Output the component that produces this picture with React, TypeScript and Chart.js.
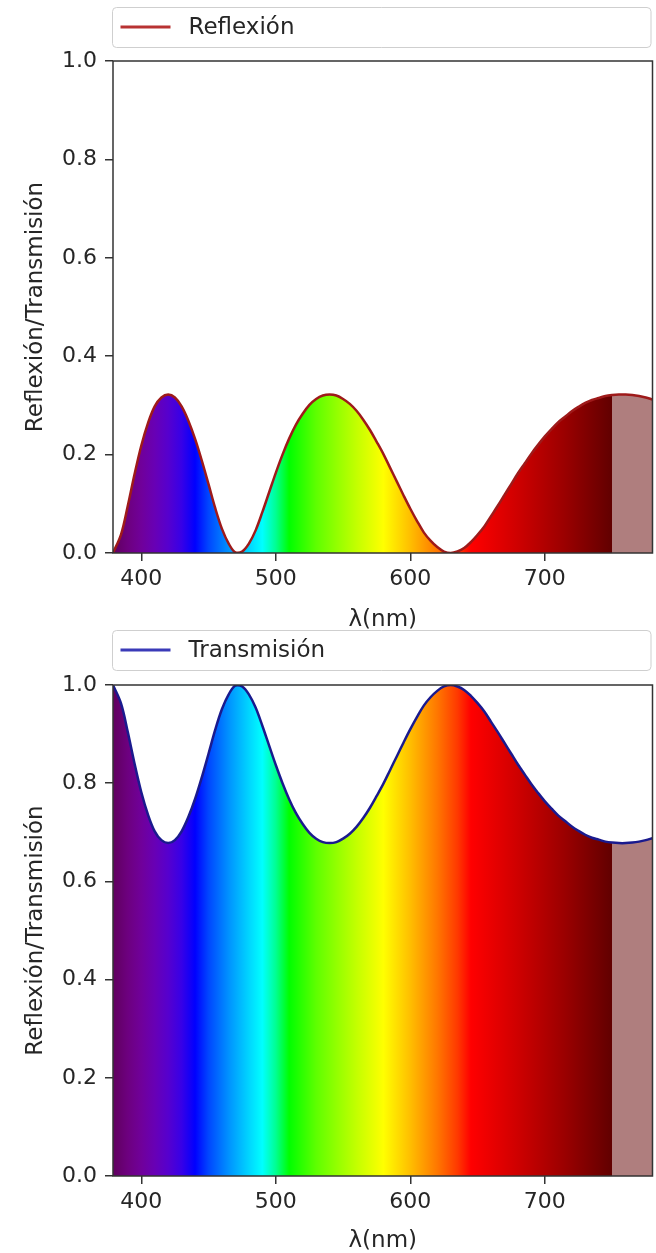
import React, { useEffect, useRef } from 'react';
import { Chart, registerables } from 'chart.js';

Chart.register(...registerables);

// ---------- data ----------
const wavelengths = [
  379, 385, 390, 395, 400, 405, 410, 415, 420, 425,
  430, 435, 440, 445, 450, 455, 460, 465, 470, 475,
  480, 485, 490, 495, 500, 505, 510, 515, 520, 525,
  530, 535, 540, 545, 550, 555, 560, 565, 570, 575,
  580, 585, 590, 595, 600, 605, 610, 615, 620, 625,
  630, 635, 640, 645, 650, 655, 660, 665, 670, 675,
  680, 685, 690, 695, 700, 705, 710, 715, 720, 725,
  730, 735, 740, 745, 750, 755, 760, 765, 770, 775,
  780,
];

const reflexion = [
  0.000, 0.038, 0.096, 0.160, 0.218, 0.264, 0.298, 0.316, 0.322, 0.316,
  0.298, 0.269, 0.232, 0.188, 0.140, 0.091, 0.049, 0.019, 0.001, 0.003,
  0.019, 0.046, 0.083, 0.123, 0.163, 0.200, 0.233, 0.261, 0.283, 0.301,
  0.313, 0.320, 0.322, 0.320, 0.313, 0.303, 0.289, 0.271, 0.250, 0.226,
  0.201, 0.173, 0.145, 0.117, 0.090, 0.065, 0.042, 0.025, 0.012, 0.003,
  0.000, 0.003, 0.010, 0.022, 0.037, 0.054, 0.075, 0.096, 0.118, 0.140,
  0.162, 0.182, 0.202, 0.220, 0.237, 0.252, 0.266, 0.277, 0.288, 0.297,
  0.305, 0.311, 0.315, 0.319, 0.321, 0.322, 0.322, 0.321, 0.319, 0.316,
  0.312,
];

const transmision = [
  1.000, 0.962, 0.904, 0.840, 0.782, 0.736, 0.702, 0.684, 0.678, 0.684,
  0.702, 0.731, 0.768, 0.812, 0.860, 0.909, 0.951, 0.981, 0.999, 0.997,
  0.981, 0.954, 0.917, 0.877, 0.837, 0.800, 0.767, 0.739, 0.717, 0.699,
  0.687, 0.680, 0.678, 0.680, 0.687, 0.697, 0.711, 0.729, 0.750, 0.774,
  0.799, 0.827, 0.855, 0.883, 0.910, 0.935, 0.958, 0.975, 0.988, 0.997,
  1.000, 0.997, 0.990, 0.978, 0.963, 0.946, 0.925, 0.904, 0.882, 0.860,
  0.838, 0.818, 0.798, 0.780, 0.763, 0.748, 0.734, 0.723, 0.712, 0.703,
  0.695, 0.689, 0.685, 0.681, 0.679, 0.678, 0.678, 0.679, 0.681, 0.684,
  0.688,
];

const xTicks = [400, 500, 600, 700];
const yTicks = [0, 0.2, 0.4, 0.6, 0.8, 1.0];
const xMin = 379;
const xMax = 780;
const visibleEnd = 750;

// spectrum colour stops (wavelength -> colour)
const spectrumNm = [380, 390, 400, 410, 420, 430, 440, 450, 465, 480, 490, 500, 510, 530, 545, 560, 580, 600, 620, 635, 645, 680, 715, 750];
const spectrumColors = [
  'rgb(97,0,97)', 'rgb(109,0,127)', 'rgb(112,0,154)', 'rgb(104,0,181)', 'rgb(86,0,206)', 'rgb(55,0,231)',
  'rgb(0,0,255)', 'rgb(0,70,255)', 'rgb(0,146,255)', 'rgb(0,213,255)', 'rgb(0,255,255)', 'rgb(0,255,146)',
  'rgb(0,255,0)', 'rgb(94,255,0)', 'rgb(146,255,0)', 'rgb(195,255,0)', 'rgb(255,255,0)', 'rgb(255,190,0)',
  'rgb(255,119,0)', 'rgb(255,57,0)', 'rgb(255,0,0)', 'rgb(206,0,0)', 'rgb(154,0,0)', 'rgb(97,0,0)',
];
const beyondColor = 'rgb(175,126,126)';

const FONT = '"DejaVu Sans", sans-serif';
const TEXT = '#262626';
const FS_TICK = 22;
const FS_LABEL = 23;

function spectrumGradient(chart: any) {
  const { ctx, chartArea, scales } = chart;
  if (!chartArea || !scales.x) return 'rgba(0,0,0,0)';
  const x0 = chartArea.left;
  const x1 = chartArea.right;
  const g = ctx.createLinearGradient(x0, 0, x1, 0);
  const pos = (w: number) => Math.min(1, Math.max(0, (scales.x.getPixelForValue(w) - x0) / (x1 - x0)));
  spectrumNm.forEach((w, i) => g.addColorStop(pos(w), spectrumColors[i]));
  const p = pos(visibleEnd);
  g.addColorStop(Math.min(1, p + 0.0005), beyondColor);
  g.addColorStop(1, beyondColor);
  return g;
}

const framePlugin = {
  id: 'frame',
  afterDatasetsDraw(chart: any) {
    const { ctx, chartArea: a } = chart;
    ctx.save();
    ctx.strokeStyle = '#333';
    ctx.lineWidth = 1.5;
    ctx.strokeRect(a.left, a.top, a.right - a.left, a.bottom - a.top);
    ctx.restore();
  },
};

function makeLegend(label: string, color: string, top: number) {
  return {
    id: 'boxLegend',
    afterDraw(chart: any) {
      const { ctx, chartArea: a } = chart;
      const x = a.left - 0.5;
      const w = a.right - a.left - 1;
      const h = 40;
      ctx.save();
      ctx.beginPath();
      (ctx as any).roundRect(x, top + 0.5, w, h, 4);
      ctx.fillStyle = '#fff';
      ctx.fill();
      ctx.strokeStyle = '#cfcfcf';
      ctx.lineWidth = 1;
      ctx.stroke();
      ctx.beginPath();
      ctx.moveTo(x + 8, top + h / 2);
      ctx.lineTo(x + 58, top + h / 2);
      ctx.strokeStyle = color;
      ctx.lineWidth = 3;
      ctx.stroke();
      ctx.fillStyle = TEXT;
      ctx.font = `${FS_LABEL}px ${FONT}`;
      ctx.textBaseline = 'middle';
      ctx.textAlign = 'left';
      ctx.fillText(label, x + 76, top + h / 2 + 1);
      ctx.restore();
    },
  };
}

interface PanelProps {
  values: number[];
  label: string;
  lineColor: string;
  legendColor: string;
  width: number;
  height: number;
  padTop: number;
  legendTop: number;
  xAxisHeight: number;
  titlePadBottom: number;
}

function Panel(p: PanelProps) {
  const ref = useRef<HTMLCanvasElement | null>(null);
  useEffect(() => {
    if (!ref.current) return;
    const chart = new Chart(ref.current, {
      type: 'line',
      data: {
        datasets: [
          {
            label: p.label,
            data: wavelengths.map((w, i) => ({ x: w, y: p.values[i] })),
            borderColor: p.lineColor,
            borderWidth: 2.5,
            pointRadius: 0,
            tension: 0.35,
            fill: 'origin',
            backgroundColor: (c: any) => spectrumGradient(c.chart),
          },
        ],
      },
      options: {
        animation: false,
        responsive: false,
        devicePixelRatio: 1,
        layout: { padding: { top: p.padTop, right: 3.5, left: 0, bottom: 0 } },
        plugins: { legend: { display: false }, tooltip: { enabled: false } },
        scales: {
          x: {
            type: 'linear',
            min: xMin,
            max: xMax,
            afterBuildTicks: (s: any) => { s.ticks = xTicks.map((v) => ({ value: v })); },
            afterFit: (s: any) => { s.height = p.xAxisHeight; },
            grid: { display: true, drawOnChartArea: false, drawTicks: true, tickLength: 8, color: '#333', lineWidth: 1.5 },
            border: { display: false },
            ticks: { color: TEXT, font: { family: FONT, size: FS_TICK }, padding: 5, maxRotation: 0, callback: (v: any) => String(v) },
            title: { display: true, text: 'λ(nm)', color: TEXT, font: { family: FONT, size: FS_LABEL, lineHeight: 1 }, padding: { top: 0, bottom: p.titlePadBottom } },
          },
          y: {
            type: 'linear',
            min: 0,
            max: 1,
            afterBuildTicks: (s: any) => { s.ticks = yTicks.map((v) => ({ value: v })); },
            afterFit: (s: any) => { s.width = 113; },
            grid: { display: true, drawOnChartArea: false, drawTicks: true, tickLength: 8, color: '#333', lineWidth: 1.5 },
            border: { display: false },
            ticks: { color: TEXT, font: { family: FONT, size: FS_TICK }, padding: 8, callback: (v: any) => Number(v).toFixed(1) },
            title: { display: true, text: 'Reflexión/Transmisión', color: TEXT, font: { family: FONT, size: FS_LABEL, lineHeight: 1 }, padding: { top: 25, bottom: 0 } },
          },
        },
      },
      plugins: [framePlugin, makeLegend(p.label, p.legendColor, p.legendTop)],
    } as any);
    return () => chart.destroy();
  }, []);
  return <canvas ref={ref} width={p.width} height={p.height} style={{ display: 'block', width: p.width, height: p.height }} />;
}

export default function App() {
  return (
    <div style={{ position: 'fixed', left: 0, top: 0, width: 656, height: 1253, overflow: 'hidden', background: '#fff' }}>
      <div style={{ position: 'absolute', left: 0, top: 0 }}>
        <Panel values={reflexion} label="Reflexión" lineColor="#9e1a1a" legendColor="#b83232"
          width={656} height={640} padTop={61} legendTop={7} xAxisHeight={87} titlePadBottom={8} />
      </div>
      <div style={{ position: 'absolute', left: 0, top: 622 }}>
        <Panel values={transmision} label="Transmisión" lineColor="#1a1a8e" legendColor="#3a3ab8"
          width={656} height={631} padTop={63} legendTop={8} xAxisHeight={77} titlePadBottom={0} />
      </div>
    </div>
  );
}
